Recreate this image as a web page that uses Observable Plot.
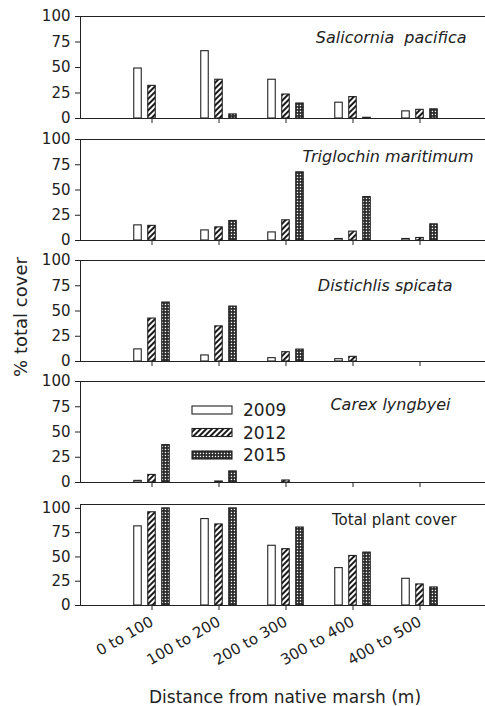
<!DOCTYPE html>
<html>
<head>
<meta charset="utf-8">
<script src="https://cdn.jsdelivr.net/npm/d3@7"></script>
<script src="https://cdn.jsdelivr.net/npm/@observablehq/plot@0.6"></script>
<style>
  html, body { margin: 0; padding: 0; background: #fff; overflow: hidden; }
  #chart { position: relative; width: 485px; height: 706px; font-family: "DejaVu Sans", sans-serif; color: #222; }
  .panel { position: absolute; left: 0; }
  #ylabel { position: absolute; left: 20px; top: 317px; transform: translate(-50%, -50%) rotate(-90deg); font-size: 18px; white-space: nowrap; }
  #xlabel { position: absolute; left: 285px; top: 697px; transform: translate(-50%, -50%); font-size: 17px; white-space: nowrap; }
</style>
</head>
<body>
<svg width="0" height="0" style="position:absolute">
  <defs>
    <pattern id="hatch" width="4" height="4" patternUnits="userSpaceOnUse" patternTransform="rotate(45)">
      <rect width="4" height="4" fill="#fff"/>
      <line x1="1" y1="0" x2="1" y2="4" stroke="#1a1a1a" stroke-width="2"/>
    </pattern>
    <pattern id="dots" width="3" height="3" patternUnits="userSpaceOnUse">
      <rect width="3" height="3" fill="#2a2a2a"/>
      <rect x="0.8" y="0.8" width="1.3" height="1.3" fill="#fff"/>
    </pattern>
  </defs>
</svg>
<div id="chart">
  <div id="ylabel">% total cover</div>
  <div id="xlabel">Distance from native marsh (m)</div>
</div>
<script>
// ---- data ----
const categories = ["0 to 100", "100 to 200", "200 to 300", "300 to 400", "400 to 500"];
const years = ["2009", "2012", "2015"];
const species = ["Salicornia\u00a0 pacifica", "Triglochin maritimum", "Distichlis spicata", "Carex lyngbyei", "Total plant cover"];
const yTicks = [0, 25, 50, 75, 100];

// values per year (rows: 2009, 2012, 2015), columns follow categories
const salicornia = [
  [49, 66, 38, 15.5, 7],
  [32, 38, 23.5, 21, 8.5],
  [0, 4, 14.7, 0.7, 9]
];
const triglochin = [
  [15, 10, 8, 1.5, 1.5],
  [14.5, 13, 20, 8.8, 2.5],
  [0, 19.3, 67.5, 43, 16]
];
const distichlis = [
  [12, 6, 3.3, 2.3, 0],
  [42.5, 34.8, 9.2, 4.6, 0],
  [58.4, 54.4, 11.8, 0, 0]
];
const carex = [
  [1.6, 0, 0, 0, 0],
  [7.5, 1, 2, 0, 0],
  [37, 11, 0, 0, 0]
];
const total = [
  [81.5, 89, 61.5, 38.5, 27.5],
  [96, 83.5, 58, 51, 21.7],
  [100, 100, 80.3, 54.5, 18.6]
];
const panelData = [salicornia, triglochin, distichlis, carex, total];
const yMax = [100, 100, 100, 100, 104];

// ---- layout / style config ----
const fills = ["#fff", "url(#hatch)", "url(#dots)"];
const frameTops = [16, 138.5, 260, 381, 504];
const frameHeights = [102, 101, 101, 101, 101];
const labelDx = [-19, -12, -33, -35, -29];
const labelDy = [21, 17, 25, 23, 16];
const labelItalic = [true, true, true, true, false];

const chart = document.getElementById("chart");
const mt = 8;

panelData.forEach((vals, p) => {
  const last = p === panelData.length - 1;
  const mb = last ? 70 : 12;
  const rows = [];
  years.forEach((yr, j) => categories.forEach((c, i) => rows.push({cat: c, year: yr, value: vals[j][i]})));
  const svg = Plot.plot({
    width: 485,
    height: mt + frameHeights[p] + mb,
    marginLeft: 80,
    marginRight: 0,
    marginTop: mt,
    marginBottom: mb,
    style: {fontFamily: "DejaVu Sans, sans-serif", fontSize: "15px", color: "#222", overflow: "visible", background: "transparent"},
    x: {
      type: "band", domain: categories, paddingInner: 0, paddingOuter: 0.5, align: 0.54,
      tickSize: 5, tickPadding: last ? 10 : 3, label: null,
      tickFormat: last ? (d => d) : (() => ""),
      tickRotate: last ? -30 : 0
    },
    y: {domain: [0, yMax[p]], ticks: yTicks, tickSize: 5, tickPadding: 5, line: true, label: null},
    marks: [
      ...years.map((yr, j) => Plot.barY(rows.filter(d => d.year === yr), {
        x: "cat", y: "value", fill: fills[j], stroke: "#222", strokeWidth: 1.1,
        insetLeft: 29.75, insetRight: 29.75, dx: (j - 1) * 14
      })),
      Plot.ruleY([0], {stroke: "#222", strokeWidth: 1.2}),
      Plot.ruleY([yMax[p]], {stroke: "#222", strokeWidth: 1.2}),
      Plot.text([species[p]], {
        frameAnchor: "top-right", dx: labelDx[p], dy: labelDy[p], textAnchor: "end", lineAnchor: "middle",
        fontSize: labelItalic[p] ? 16 : 15, fontStyle: labelItalic[p] ? "italic" : "normal", fill: "#222"
      })
    ]
  });
  const div = document.createElement("div");
  div.className = "panel";
  div.style.top = (frameTops[p] - mt) + "px";
  div.appendChild(svg);
  chart.appendChild(div);
});

// ---- legend (drawn inside the Carex panel) ----
const legend = d3.select(chart).append("svg")
  .attr("width", 110).attr("height", 66)
  .style("position", "absolute").style("left", "190px").style("top", "400px").style("overflow", "visible");
const items = legend.selectAll("g").data(years).join("g")
  .attr("transform", (d, i) => `translate(0,${10 + i * 22.5})`);
items.append("rect").attr("x", 2).attr("y", -4).attr("width", 40).attr("height", 8)
  .attr("fill", (d, i) => fills[i]).attr("stroke", "#222").attr("stroke-width", 1.1);
items.append("text").attr("x", 53).attr("dy", "0.36em")
  .attr("font-family", "DejaVu Sans, sans-serif").attr("font-size", 17).attr("fill", "#222")
  .text(d => d);
</script>
</body>
</html>
